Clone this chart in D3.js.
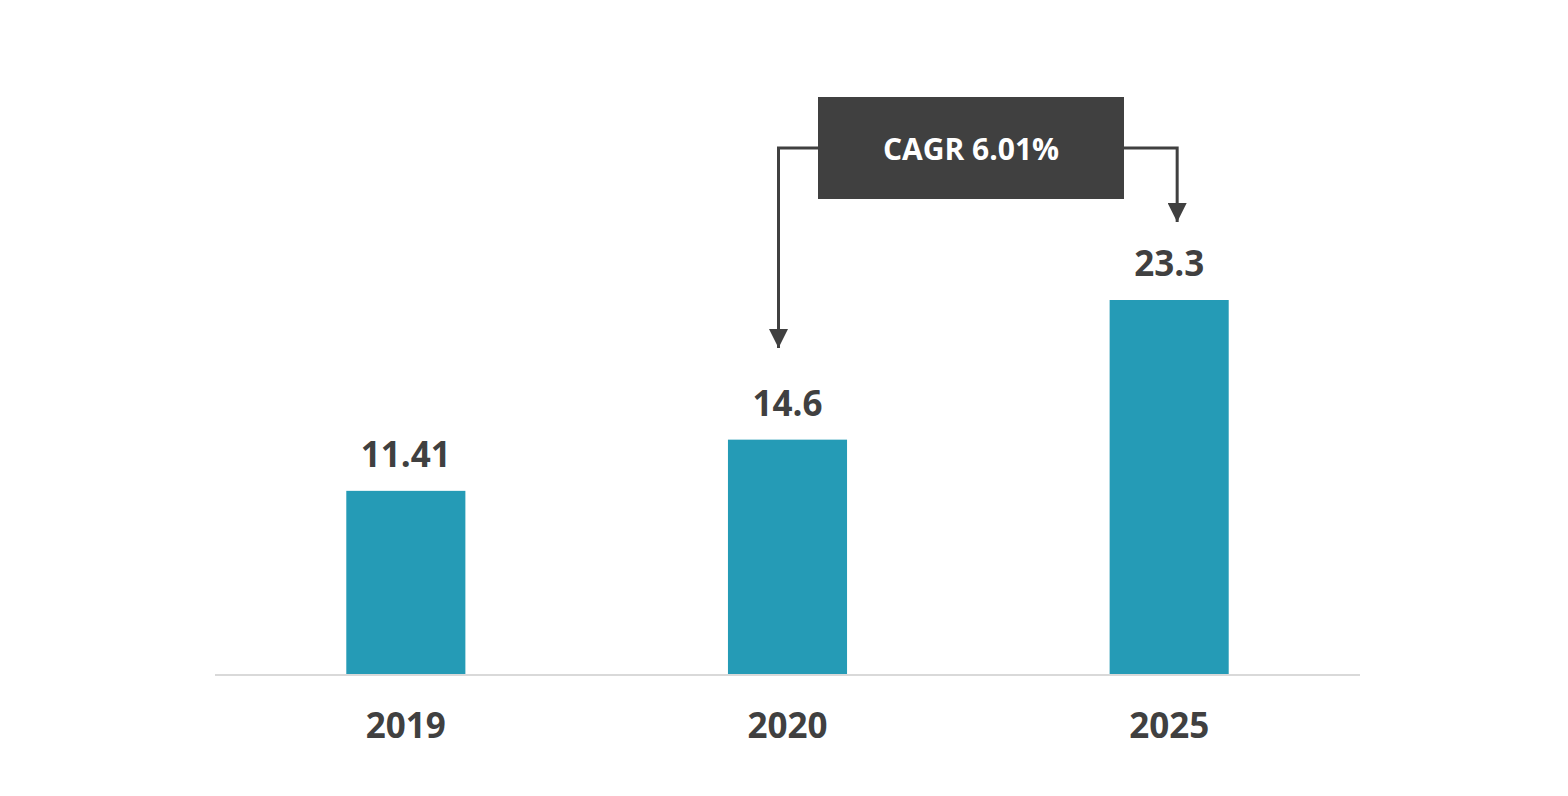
<!DOCTYPE html>
<html>
<head>
<meta charset="utf-8">
<script src="https://cdn.jsdelivr.net/npm/d3@7"></script>
<style>
  html, body { margin: 0; padding: 0; background: #fff; }
  svg { display: block; font-family: "Open Sans", sans-serif; }
</style>
</head>
<body>
<div id="chart"></div>
<script>
const YEARS = ["2019", "2020", "2025"];
const VALUES = [11.41, 14.6, 23.3];
const VALUE_LABELS = ["11.41", "14.6", "23.3"];
const CAGR_TEXT = "CAGR 6.01%";
const CAGR_FROM = "2020";
const CAGR_TO = "2025";

const WIDTH = 1568;
const HEIGHT = 796;
const BAR_COLOR = "#259bb6";
const TEXT_COLOR = "#404040";

const xScale = d3.scaleBand()
  .domain(YEARS)
  .range([215, 1360])
  .paddingInner(0.688)
  .paddingOuter(0.344);

const yScale = d3.scaleLinear()
  .domain([0, 23.3])
  .range([674, 300]);

const svg = d3.select("#chart")
  .append("svg")
  .attr("width", WIDTH)
  .attr("height", HEIGHT);

// bars
svg.append("g")
  .selectAll("rect")
  .data(VALUES)
  .join("rect")
  .attr("x", (d, i) => xScale(YEARS[i]))
  .attr("y", d => yScale(d))
  .attr("width", xScale.bandwidth())
  .attr("height", d => yScale(0) - yScale(d))
  .attr("fill", BAR_COLOR);

// baseline
svg.append("line")
  .attr("x1", xScale.range()[0])
  .attr("x2", xScale.range()[1])
  .attr("y1", yScale(0) + 1)
  .attr("y2", yScale(0) + 1)
  .attr("stroke", "#d9d9d9")
  .attr("stroke-width", 2);

// value labels
svg.append("g")
  .selectAll("text")
  .data(VALUES)
  .join("text")
  .attr("x", (d, i) => xScale(YEARS[i]) + xScale.bandwidth() / 2)
  .attr("y", d => yScale(d) - 24)
  .attr("text-anchor", "middle")
  .attr("font-size", 35)
  .attr("font-weight", 700)
  .attr("fill", TEXT_COLOR)
  .text((d, i) => VALUE_LABELS[i]);

// x axis labels
svg.append("g")
  .selectAll("text")
  .data(YEARS)
  .join("text")
  .attr("x", d => xScale(d) + xScale.bandwidth() / 2)
  .attr("y", 738)
  .attr("text-anchor", "middle")
  .attr("font-size", 35)
  .attr("font-weight", 700)
  .attr("fill", TEXT_COLOR)
  .text(d => d);

// CAGR box + arrows
const defs = svg.append("defs");
defs.append("marker")
  .attr("id", "arrow")
  .attr("viewBox", "0 0 10 10")
  .attr("refX", 10)
  .attr("refY", 5)
  .attr("markerUnits", "userSpaceOnUse")
  .attr("markerWidth", 26)
  .attr("markerHeight", 19)
  .attr("orient", "auto")
  .append("path")
  .attr("d", "M0,0 L10,5 L0,10 Z")
  .attr("fill", TEXT_COLOR);

const box = { x: 818, y: 97, w: 306, h: 102 };
const lineY = box.y + 51;
const xFrom = xScale(CAGR_FROM) + xScale.bandwidth() / 2 - 9;
const xTo = xScale(CAGR_TO) + xScale.bandwidth() / 2 + 8;

svg.append("path")
  .attr("d", `M${box.x},${lineY} H${xFrom} V348`)
  .attr("fill", "none")
  .attr("stroke", TEXT_COLOR)
  .attr("stroke-width", 3)
  .attr("marker-end", "url(#arrow)");

svg.append("path")
  .attr("d", `M${box.x + box.w},${lineY} H${xTo} V222`)
  .attr("fill", "none")
  .attr("stroke", TEXT_COLOR)
  .attr("stroke-width", 3)
  .attr("marker-end", "url(#arrow)");

svg.append("rect")
  .attr("x", box.x)
  .attr("y", box.y)
  .attr("width", box.w)
  .attr("height", box.h)
  .attr("fill", "#404040");

svg.append("text")
  .attr("x", box.x + box.w / 2)
  .attr("y", 160)
  .attr("text-anchor", "middle")
  .attr("font-size", 30)
  .attr("font-weight", 700)
  .attr("fill", "#fff")
  .text(CAGR_TEXT);
</script>
</body>
</html>
